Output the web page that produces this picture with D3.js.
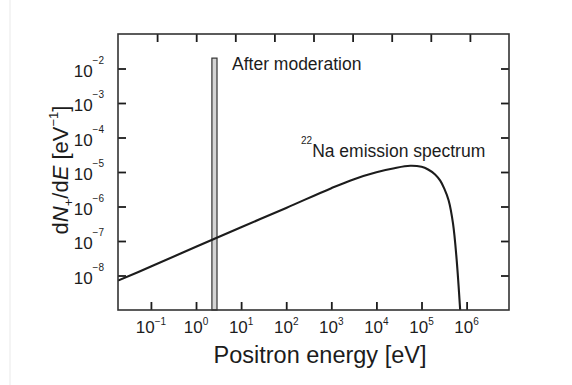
<!DOCTYPE html>
<html>
<head>
<meta charset="utf-8">
<script src="https://cdn.jsdelivr.net/npm/d3@7"></script>
<style>
  html, body { margin: 0; padding: 0; background: #fff; }
  svg { display: block; font-family: "Liberation Sans", Arial, Helvetica, sans-serif; }
</style>
</head>
<body>
<svg id="chart" width="572" height="385"></svg>
<script>
// Positron energy spectrum of a 22Na source, before and after moderation.
const energyEV = [10 ** -1.73, 0.1, 1, 10, 100, 1000, 3.2e3, 1e4, 2.5e4, 5.6e4, 1e5, 1.4e5, 2e5, 2.6e5, 3.2e5, 4e5, 5e5, 6e5, 7.2e5];
const spectrum = [7.1e-9, 1.82e-8, 6.8e-8, 2.5e-7, 9.1e-7, 3.4e-6, 6.2e-6, 9.8e-6, 1.29e-5, 1.51e-5, 1.41e-5, 1.18e-5, 8.5e-6, 5.6e-6, 3.3e-6, 1.5e-6, 3.2e-7, 3.0e-8, 1.0e-9];

// Narrow band of moderated positrons (energy range in eV, height in eV^-1)
const moderatedEnergy = [2.25, 2.92];
const moderatedValue = [2e-2];

const xTickExps = [-1, 0, 1, 2, 3, 4, 5, 6];
const topTickExps = [-1, 0, 1, 2, 3, 4, 5, 6, 7];
const yTickExps = [-8, -7, -6, -5, -4, -3, -2];

const xTitle = "Positron energy [eV]";
const modLabel = "After moderation";
const naLabel = ["22", "Na emission spectrum"];

const svg = d3.select("#chart");
const W = 572, H = 385;
const m = { left: 118, top: 34, right: 63, bottom: 75 };
const x0 = m.left, x1 = W - m.right, y0 = H - m.bottom, y1 = m.top;

const x = d3.scaleLog().domain([10 ** -1.73, 10 ** 6.94]).range([x0, x1]);
const xTop = d3.scaleLog().domain([1e-2, 1e8]).range([x0, x1]);
const y = d3.scaleLog().domain([1e-9, 1e-1]).range([y0, y1]);

const ink = "#1c1c1c";

// faint page edge
svg.append("line").attr("x1", 10).attr("x2", 10).attr("y1", 0).attr("y2", H)
  .attr("stroke", "#ededed").attr("stroke-width", 1.2);

svg.append("defs").append("clipPath").attr("id", "plot")
  .append("rect").attr("x", x0).attr("y", y1).attr("width", x1 - x0).attr("height", y0 - y1);

// moderated band
svg.append("rect")
  .attr("x", x(moderatedEnergy[0]))
  .attr("width", x(moderatedEnergy[1]) - x(moderatedEnergy[0]))
  .attr("y", y(moderatedValue[0]))
  .attr("height", y0 - y(moderatedValue[0]))
  .attr("fill", "#d4d4d4").attr("stroke", "#333").attr("stroke-width", 1.2);

// emission spectrum
const line = d3.line()
  .x((d, i) => x(energyEV[i]))
  .y(d => y(d))
  .curve(d3.curveCatmullRom.alpha(0.5));
svg.append("path")
  .attr("clip-path", "url(#plot)")
  .attr("d", line(spectrum))
  .attr("fill", "none").attr("stroke", ink).attr("stroke-width", 2.1)
  .attr("stroke-linejoin", "round");

// axes (inward ticks, no labels)
const tickStyle = g => {
  g.select(".domain").remove();
  g.selectAll(".tick line").attr("stroke", ink).attr("stroke-width", 1.8);
  g.selectAll(".tick text").remove();
};
svg.append("g").attr("transform", `translate(0,${y0})`)
  .call(d3.axisBottom(x).tickValues(xTickExps.map(e => 10 ** e)).tickSize(-8).tickFormat(""))
  .call(tickStyle);
svg.append("g").attr("transform", `translate(0,${y1})`)
  .call(d3.axisTop(xTop).tickValues(topTickExps.map(e => 10 ** e)).tickSize(-8).tickFormat(""))
  .call(tickStyle);
svg.append("g").attr("transform", `translate(${x0},0)`)
  .call(d3.axisLeft(y).tickValues(yTickExps.map(e => 10 ** e)).tickSize(-8).tickFormat(""))
  .call(tickStyle);
svg.append("g").attr("transform", `translate(${x1},0)`)
  .call(d3.axisRight(y).tickValues(yTickExps.map(e => 10 ** e)).tickSize(-8).tickFormat(""))
  .call(tickStyle);

// frame
svg.append("rect").attr("x", x0).attr("y", y1).attr("width", x1 - x0).attr("height", y0 - y1)
  .attr("fill", "none").attr("stroke", "#333").attr("stroke-width", 1.6);

const fmtExp = e => (e < 0 ? "\u2212" + (-e) : String(e));

// x tick labels
const xl = svg.append("g").attr("fill", ink);
xTickExps.forEach(e => {
  const t = xl.append("text").attr("x", x(10 ** e)).attr("y", 333)
    .attr("text-anchor", "middle").attr("font-size", 17);
  t.append("tspan").text("10");
  t.append("tspan").attr("dy", -8).attr("font-size", 10).text(fmtExp(e));
});

// y tick labels
const yl = svg.append("g").attr("fill", ink);
yTickExps.forEach(e => {
  const t = yl.append("text").attr("x", 104).attr("y", y(10 ** e) + 8)
    .attr("text-anchor", "end").attr("font-size", 17);
  t.append("tspan").text("10");
  t.append("tspan").attr("dy", -13).attr("font-size", 10).text(fmtExp(e));
});

// axis titles
svg.append("text").attr("x", 320).attr("y", 363).attr("text-anchor", "middle")
  .attr("font-size", 23.5).attr("fill", ink).text(xTitle);

const yt = svg.append("text").attr("transform", "translate(68,170) rotate(-90)")
  .attr("text-anchor", "middle").attr("font-size", 22).attr("fill", ink);
yt.append("tspan").text("d");
yt.append("tspan").attr("font-style", "italic").text("N");
yt.append("tspan").attr("font-size", 13).attr("dy", 5).text("+");
yt.append("tspan").attr("dy", -5).text("/d");
yt.append("tspan").attr("font-style", "italic").text("E");
yt.append("tspan").text(" [eV");
yt.append("tspan").attr("font-size", 13).attr("dy", -10).text("\u22121");
yt.append("tspan").attr("dy", 10).text("]");

// annotations
svg.append("text").attr("x", 232).attr("y", 70).attr("font-size", 17.5).attr("fill", ink).text(modLabel);
const na = svg.append("text").attr("x", 301).attr("y", 156.5).attr("font-size", 17.5).attr("fill", ink);
na.append("tspan").attr("font-size", 10).attr("dy", -13).text(naLabel[0]);
na.append("tspan").attr("dy", 13).text(naLabel[1]);
</script>
</body>
</html>
